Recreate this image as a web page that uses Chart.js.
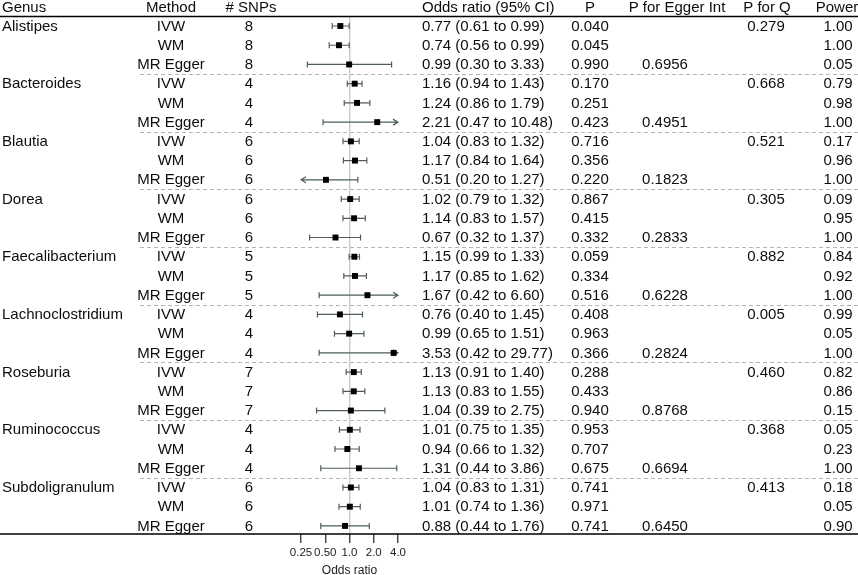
<!DOCTYPE html>
<html>
<head>
<meta charset="utf-8">
<script src="https://cdn.jsdelivr.net/npm/chart.js@4"></script>
<style>
  html, body { margin: 0; padding: 0; background: #fff; }
  canvas { display: block; }
</style>
</head>
<body>
<canvas id="forest" width="858" height="575"></canvas>
<script>
// data, one row per genus x method
const genera = ['Alistipes', 'Bacteroides', 'Blautia', 'Dorea', 'Faecalibacterium',
    'Lachnoclostridium', 'Roseburia', 'Ruminococcus', 'Subdoligranulum'];
const methods = ['IVW', 'WM', 'MR Egger'];
const snps = [8, 4, 6, 6, 5, 4, 7, 4, 6];

const oddsRatio = [0.77, 0.74, 0.99, 1.16, 1.24, 2.21, 1.04, 1.17, 0.51,
    1.02, 1.14, 0.67, 1.15, 1.17, 1.67, 0.76, 0.99, 3.53,
    1.13, 1.13, 1.04, 1.01, 0.94, 1.31, 1.04, 1.01, 0.88];
const ciLower = [0.61, 0.56, 0.30, 0.94, 0.86, 0.47, 0.83, 0.84, 0.20,
    0.79, 0.83, 0.32, 0.99, 0.85, 0.42, 0.40, 0.65, 0.42,
    0.91, 0.83, 0.39, 0.75, 0.66, 0.44, 0.83, 0.74, 0.44];
const ciUpper = [0.99, 0.99, 3.33, 1.43, 1.79, 10.48, 1.32, 1.64, 1.27,
    1.32, 1.57, 1.37, 1.33, 1.62, 6.60, 1.45, 1.51, 29.77,
    1.40, 1.55, 2.75, 1.35, 1.32, 3.86, 1.31, 1.36, 1.76];
const pValue = [0.040, 0.045, 0.990, 0.170, 0.251, 0.423, 0.716, 0.356, 0.220,
    0.867, 0.415, 0.332, 0.059, 0.334, 0.516, 0.408, 0.963, 0.366,
    0.288, 0.433, 0.940, 0.953, 0.707, 0.675, 0.741, 0.971, 0.741];
const power = [1.00, 1.00, 0.05, 0.79, 0.98, 1.00, 0.17, 0.96, 1.00,
    0.09, 0.95, 1.00, 0.84, 0.92, 1.00, 0.99, 0.05, 1.00,
    0.82, 0.86, 0.15, 0.05, 0.23, 1.00, 0.18, 0.05, 0.90];
// one per genus
const pEgger = [0.6956, 0.4951, 0.1823, 0.2833, 0.6228, 0.2824, 0.8768, 0.6694, 0.6450];
const pQ = [0.279, 0.668, 0.521, 0.305, 0.882, 0.005, 0.460, 0.368, 0.413];

const tickValues = [0.25, 0.5, 1, 2, 4];
const tickLabels = ['0.25', '0.50', '1.0', '2.0', '4.0'];

const FONT = '15px "Liberation Sans", Arial, Helvetica, sans-serif';
const INK = '#0d0d0d';
const WHISKER = '#4f5d5d';

function drawText(ctx, txt, x, y, align) {
    ctx.textAlign = align;
    ctx.fillText(txt, x, y);
}

const forestTable = {
    id: 'forestTable',
    beforeDatasetsDraw(chart) {
        const { ctx, scales: { x, y } } = chart;
        ctx.save();

        // dashed separators between genera
        ctx.strokeStyle = '#b4b4b4';
        ctx.lineWidth = 1;
        ctx.setLineDash([4, 3]);
        for (let g = 1; g < genera.length; g++) {
            const yy = Math.round(y.getPixelForValue(g * 3 - 0.5)) + 0.5;
            ctx.beginPath();
            ctx.moveTo(140, yy);
            ctx.lineTo(858, yy);
            ctx.stroke();
        }
        ctx.setLineDash([]);

        // confidence intervals, arrows where they leave the axis
        ctx.strokeStyle = WHISKER;
        ctx.lineWidth = 1.2;
        oddsRatio.forEach((v, i) => {
            const py = y.getPixelForValue(i);
            const x0 = x.getPixelForValue(Math.max(ciLower[i], x.min));
            const x1 = x.getPixelForValue(Math.min(ciUpper[i], x.max));
            ctx.beginPath();
            ctx.moveTo(x0, py);
            ctx.lineTo(x1, py);
            [[x0, ciLower[i] < x.min, -1], [x1, ciUpper[i] > x.max, 1]].forEach(([px, clipped, dir]) => {
                if (clipped) {
                    ctx.moveTo(px - 5 * dir, py - 3);
                    ctx.lineTo(px, py);
                    ctx.lineTo(px - 5 * dir, py + 3);
                } else {
                    ctx.moveTo(px, py - 3);
                    ctx.lineTo(px, py + 3);
                }
            });
            ctx.stroke();
        });
        ctx.restore();
    },
    afterDraw(chart) {
        const { ctx, scales: { y } } = chart;
        ctx.save();
        ctx.fillStyle = INK;
        ctx.font = FONT;
        ctx.textBaseline = 'middle';

        // header
        const hy = y.getPixelForValue(-0.95);
        drawText(ctx, 'Genus', 2, hy, 'left');
        drawText(ctx, 'Method', 171, hy, 'center');
        drawText(ctx, '# SNPs', 251, hy, 'center');
        drawText(ctx, 'Odds ratio (95% CI)', 422, hy, 'left');
        drawText(ctx, 'P', 590, hy, 'center');
        drawText(ctx, 'P for Egger Int', 677, hy, 'center');
        drawText(ctx, 'P for Q', 767, hy, 'center');
        drawText(ctx, 'Power', 837, hy, 'center');

        // body rows
        oddsRatio.forEach((v, i) => {
            const g = Math.floor(i / 3), m = i % 3;
            const py = y.getPixelForValue(i) + 0.5;
            if (m === 0) drawText(ctx, genera[g], 2, py, 'left');
            drawText(ctx, methods[m], 171, py, 'center');
            drawText(ctx, String(snps[g]), 249, py, 'center');
            drawText(ctx, `${v.toFixed(2)} (${ciLower[i].toFixed(2)} to ${ciUpper[i].toFixed(2)})`, 422, py, 'left');
            drawText(ctx, pValue[i].toFixed(3), 590, py, 'center');
            if (m === 0) drawText(ctx, pQ[g].toFixed(3), 766, py, 'center');
            if (m === 2) drawText(ctx, pEgger[g].toFixed(4), 665, py, 'center');
            drawText(ctx, power[i].toFixed(2), 838, py, 'center');
        });

        // rules across the full width
        ctx.strokeStyle = '#000';
        ctx.lineWidth = 1.5;
        ctx.beginPath();
        ctx.moveTo(0, 16.5); ctx.lineTo(858, 16.5);
        ctx.moveTo(0, chart.chartArea.bottom); ctx.lineTo(858, chart.chartArea.bottom);
        ctx.stroke();
        ctx.restore();
    }
};

new Chart(document.getElementById('forest'), {
    type: 'scatter',
    data: {
        datasets: [{
            data: oddsRatio.map((v, i) => ({ x: v, y: i })),
            pointStyle: 'rect',
            pointRadius: 4.2,
            pointHoverRadius: 4.2,
            backgroundColor: '#000',
            borderWidth: 0,
            clip: false
        }]
    },
    options: {
        responsive: false,
        animation: false,
        devicePixelRatio: 1,
        layout: { padding: { left: 301, right: 460, top: 17, bottom: 0 } },
        plugins: { legend: { display: false }, tooltip: { enabled: false } },
        scales: {
            x: {
                type: 'logarithmic',
                min: 0.25,
                max: 4,
                afterBuildTicks: s => { s.ticks = tickValues.map(v => ({ value: v })); },
                afterFit: s => { s.height = 41; },
                border: { display: false },
                grid: {
                    color: c => (c.tick && c.tick.value === 1 ? '#cdcdcd' : 'rgba(0,0,0,0)'),
                    lineWidth: 1.5,
                    drawTicks: true,
                    tickLength: 9,
                    tickColor: '#222',
                    tickWidth: 1.2
                },
                ticks: {
                    autoSkip: false,
                    maxRotation: 0,
                    padding: 3,
                    color: '#222',
                    font: { family: '"Liberation Sans", Arial, sans-serif', size: 11.5 },
                    callback: v => tickLabels[tickValues.indexOf(v)]
                },
                title: {
                    display: true,
                    text: 'Odds ratio',
                    color: '#222',
                    padding: 0,
                    font: { family: '"Liberation Sans", Arial, sans-serif', size: 12, lineHeight: 0.8 }
                }
            },
            y: {
                type: 'linear',
                display: false,
                reverse: true,
                min: -0.468,
                max: 26.42
            }
        }
    },
    plugins: [forestTable]
});
</script>
</body>
</html>
